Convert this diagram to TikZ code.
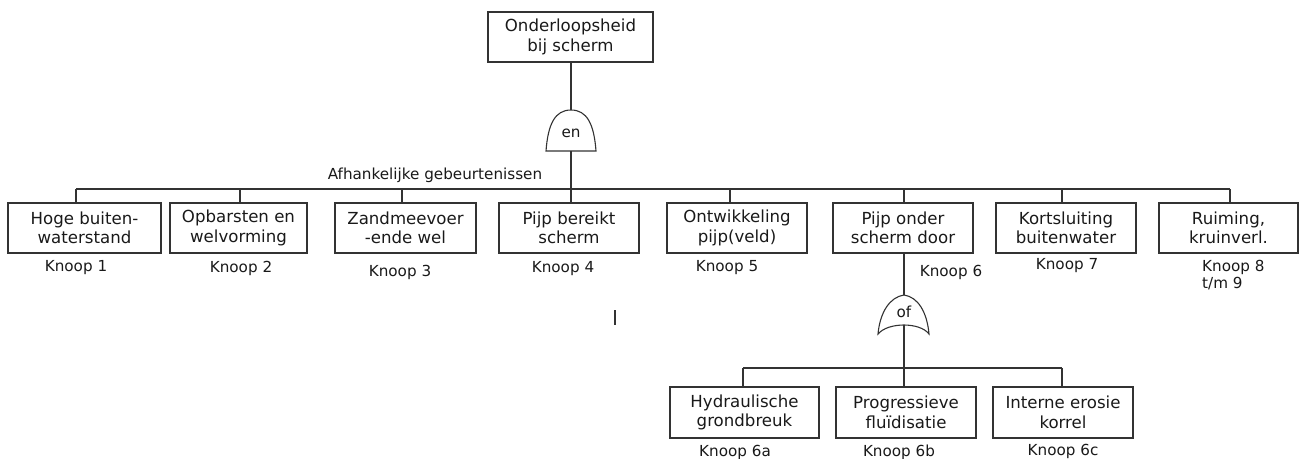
\documentclass[tikz,border=0pt]{standalone}
\usepackage{fontspec}
\setmainfont{DejaVu Sans}
\begin{document}
\begin{tikzpicture}[x=1pt,y=-1pt,
  line/.style={draw=black!80, line width=1.1pt},
  box/.style={line, rectangle, minimum height=50pt, inner sep=0pt, align=center,
    font=\fontsize{16.6}{19.5}\selectfont, text=black!90},
  lbl/.style={inner sep=0pt, font=\fontsize{15.2}{17}\selectfont, text=black!90},
  gate/.style={line, fill=white}]
\useasboundingbox (0,0) rectangle (1300,458);
% top event
\node[box, minimum width=165pt] (top) at (570.5,37) {Onderloopsheid\\bij scherm};
% first level boxes
\node[box, minimum width=153pt] (b1) at (84.5,228) {Hoge buiten-\\waterstand};
\node[box, minimum width=137pt] (b2) at (238.5,228) {Opbarsten en\\welvorming};
\node[box, minimum width=141pt] (b3) at (405.5,228) {Zandmeevoer\\-ende wel};
\node[box, minimum width=140pt] (b4) at (569,228) {Pijp bereikt\\scherm};
\node[box, minimum width=140pt] (b5) at (737,228) {Ontwikkeling\\pijp(veld)};
\node[box, minimum width=140pt] (b6) at (903,228) {Pijp onder\\scherm door};
\node[box, minimum width=140pt] (b7) at (1066,228) {Kortsluiting\\buitenwater};
\node[box, minimum width=139pt] (b8) at (1228.5,228) {Ruiming,\\kruinverl.};
% second level boxes
\node[box, minimum width=149pt, minimum height=51pt] (b6a) at (744.5,412.5) {Hydraulische\\grondbreuk};
\node[box, minimum width=140pt, minimum height=51pt] (b6b) at (906,412.5) {Progressieve\\fluïdisatie};
\node[box, minimum width=140pt, minimum height=51pt] (b6c) at (1063,412.5) {Interne erosie\\korrel};
% labels
\node[lbl] (k1) at (76,268) {Knoop 1};
\node[lbl] (k2) at (241,268) {Knoop 2};
\node[lbl] (k3) at (400,272) {Knoop 3};
\node[lbl] (k4) at (563,269) {Knoop 4};
\node[lbl] (k5) at (727,268) {Knoop 5};
\node[lbl] (k6) at (951,272) {Knoop 6};
\node[lbl] (k7) at (1067,266) {Knoop 7};
\node[lbl, align=left, anchor=west] (k8) at (1202,275.5) {Knoop 8\\t/m 9};
\node[lbl] (k6a) at (735,452) {Knoop 6a};
\node[lbl] (k6b) at (899,452) {Knoop 6b};
\node[lbl] (k6c) at (1063,451) {Knoop 6c};
\node[lbl] (afh) at (435,175) {Afhankelijke gebeurtenissen};
% AND gate
\coordinate (g1t) at (571,110);
\coordinate (g1b) at (571,151);
\draw[gate] (546,151) .. controls (548,124) and (555,110) .. (g1t)
  .. controls (587,110) and (594,124) .. (596,151) -- cycle;
\node[lbl] (en) at (571,133) {en};
% OR gate
\coordinate (g2t) at (904,295);
\coordinate (g2b) at (904,325);
\draw[gate] (878,334) .. controls (880,312) and (890,297) .. (g2t)
  .. controls (918,297) and (927,312) .. (929,334)
  .. controls (920,322) and (888,322) .. (878,334) -- cycle;
\node[lbl] (of) at (904,312) {of};
% bus coordinates
\coordinate (s1) at (76,189);
\coordinate (s2) at (240,189);
\coordinate (s3) at (402,189);
\coordinate (s4) at (571,189);
\coordinate (s5) at (730,189);
\coordinate (s6) at (904,189);
\coordinate (s7) at (1062,189);
\coordinate (s8) at (1230,189);
\coordinate (t1) at (743,368);
\coordinate (t2) at (904,368);
\coordinate (t3) at (1062,368);
% connectors
\draw[line] (top.south -| g1t) -- (g1t);
\draw[line] (g1b) -- (s4 |- b4.north);
\draw[line] (s1) -- (s8);
\foreach \s/\b in {s1/b1,s2/b2,s3/b3,s5/b5,s6/b6,s7/b7,s8/b8}
  \draw[line] (\s) -- (\s |- \b.north);
\draw[line] (b6.south -| g2t) -- (g2t);
\draw[line] (g2b) -- (t2 |- b6b.north);
\draw[line] (t1) -- (t3);
\draw[line] (t1) -- (t1 |- b6a.north);
\draw[line] (t3) -- (t3 |- b6c.north);
% stray mark
\coordinate (m1) at (615,310);
\coordinate (m2) at (615,325);
\draw[line, line width=1.5pt] (m1) -- (m2);
\end{tikzpicture}
\end{document}
